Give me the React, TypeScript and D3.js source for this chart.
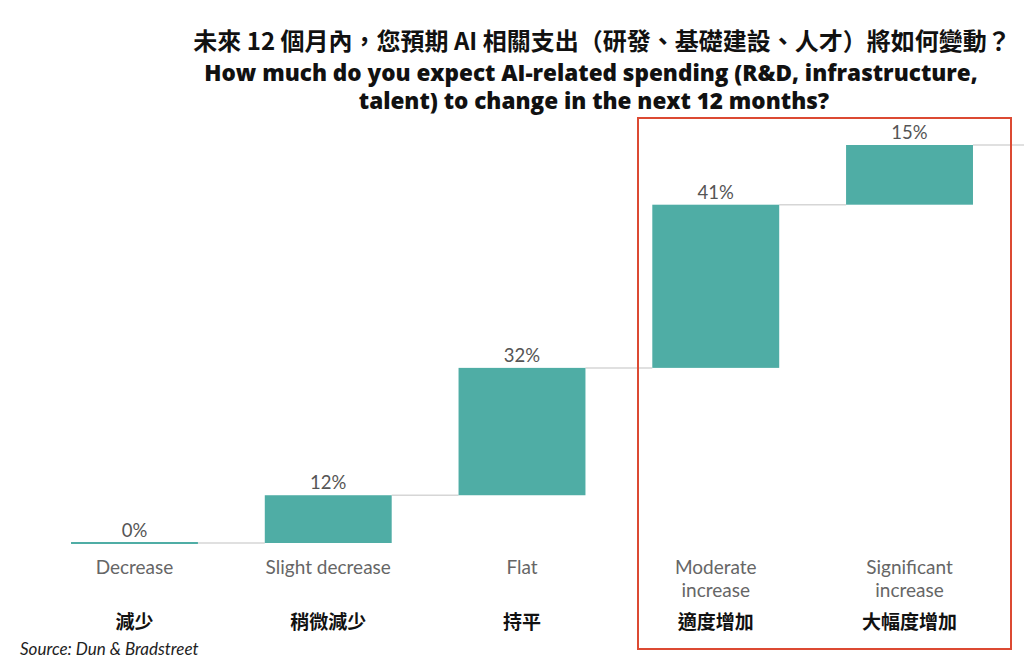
import React, { useEffect, useRef } from 'react';
import * as d3 from 'd3';

const categoriesEn: string[][] = [
  ['Decrease'],
  ['Slight decrease'],
  ['Flat'],
  ['Moderate', 'increase'],
  ['Significant', 'increase'],
];
const categoriesZh: string[] = ['減少', '稍微減少', '持平', '適度增加', '大幅度增加'];
const values: number[] = [0, 12, 32, 41, 15];
const valueLabels: string[] = ['0%', '12%', '32%', '41%', '15%'];

const titleZh = '未來 12 個月內，您預期 AI 相關支出（研發、基礎建設、人才）將如何變動？';
const titleEn = [
  'How much do you expect AI-related spending (R&D, infrastructure,',
  'talent) to change in the next 12 months?',
];
const source = 'Source: Dun & Bradstreet';

const App: React.FC = () => {
  const chartRef = useRef<SVGSVGElement>(null);

  useEffect(() => {
    const width = 1024;
    const height = 658;
    const teal = '#4fada5';
    const latin = 'Lato, "Open Sans", sans-serif';
    const cjk = '"Noto Sans CJK TC", "Noto Sans CJK SC", sans-serif';

    const svg = d3.select(chartRef.current);
    svg.selectAll('*').remove();
    svg.attr('viewBox', `0 0 ${width} ${height}`);

    svg.append('rect').attr('width', width).attr('height', height).attr('fill', '#fff');

    // title
    svg
      .append('text')
      .attr('x', 602)
      .attr('y', 50)
      .attr('text-anchor', 'middle')
      .attr('font-family', cjk)
      .attr('font-weight', 700)
      .attr('font-size', 24)
      .attr('fill', '#111')
      .text(titleZh);

    titleEn.forEach((line, i) => {
      svg
        .append('text')
        .attr('x', 591 + i * 3)
        .attr('y', 81 + i * 28)
        .attr('text-anchor', 'middle')
        .attr('font-family', '"Open Sans", Lato, sans-serif')
        .attr('font-weight', 800)
        .attr('font-size', 22.5)
        .attr('fill', '#111')
        .text(line);
    });

    // waterfall
    const x = d3
      .scaleBand<number>()
      .domain(d3.range(values.length))
      .range([37.6, 1006.4])
      .paddingInner(0.345)
      .paddingOuter(0.1725);

    const y = d3.scaleLinear().domain([0, 100]).range([543, 145]);

    const ends = d3.cumsum(values);
    const starts = ends.map((e, i) => e - values[i]);

    const g = svg.append('g');

    // connector lines
    values.forEach((_, i) => {
      const x1 = x(i)! + x.bandwidth();
      const x2 = i < values.length - 1 ? x(i + 1)! : width;
      g.append('line')
        .attr('x1', x1)
        .attr('x2', x2)
        .attr('y1', y(ends[i]))
        .attr('y2', y(ends[i]))
        .attr('stroke', '#d6d6d6')
        .attr('stroke-width', 1.5);
    });

    g.selectAll('.bar')
      .data(values)
      .enter()
      .append('rect')
      .attr('class', 'bar')
      .attr('x', (_, i) => x(i)!)
      .attr('y', (_, i) => y(ends[i]) - (values[i] === 0 ? 1 : 0))
      .attr('width', x.bandwidth())
      .attr('height', (_, i) => Math.max(2, y(starts[i]) - y(ends[i])))
      .attr('fill', teal);

    g.selectAll('.val')
      .data(valueLabels)
      .enter()
      .append('text')
      .attr('class', 'val')
      .attr('x', (_, i) => x(i)! + x.bandwidth() / 2)
      .attr('y', (_, i) => y(ends[i]) - 6)
      .attr('text-anchor', 'middle')
      .attr('font-family', latin)
      .attr('font-size', 18.5)
      .attr('fill', '#555')
      .text((d) => d);

    categoriesEn.forEach((lines, i) => {
      lines.forEach((line, j) => {
        g.append('text')
          .attr('x', x(i)! + x.bandwidth() / 2)
          .attr('y', 574 + j * 23)
          .attr('text-anchor', 'middle')
          .attr('font-family', latin)
          .attr('font-size', 19)
          .attr('fill', '#666')
          .text(line);
      });
    });

    g.selectAll('.zh')
      .data(categoriesZh)
      .enter()
      .append('text')
      .attr('class', 'zh')
      .attr('x', (_, i) => x(i)! + x.bandwidth() / 2)
      .attr('y', 629)
      .attr('text-anchor', 'middle')
      .attr('font-family', cjk)
      .attr('font-weight', 700)
      .attr('font-size', 19)
      .attr('fill', '#111')
      .text((d) => d);

    // highlight box around the increase categories
    svg
      .append('rect')
      .attr('x', 638)
      .attr('y', 118)
      .attr('width', 373)
      .attr('height', 531)
      .attr('fill', 'none')
      .attr('stroke', '#dc4a33')
      .attr('stroke-width', 2);

    svg
      .append('text')
      .attr('x', 20)
      .attr('y', 655)
      .attr('font-family', latin)
      .attr('font-style', 'italic')
      .attr('font-size', 17)
      .attr('fill', '#222')
      .text(source);
  }, []);

  return (
    <svg
      ref={chartRef}
      width={1024}
      height={658}
      style={{ position: 'absolute', left: 0, top: 0 }}
    ></svg>
  );
};

export default App;
